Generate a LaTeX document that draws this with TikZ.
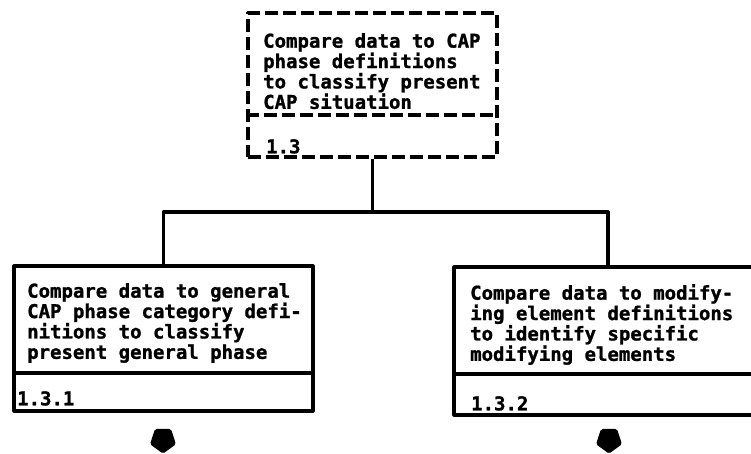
\documentclass[tikz,border=0pt]{standalone}
\usepackage{fontspec}
\newfontfamily\plotfont{DejaVu Sans Mono Bold}[FakeBold=1.2]
\usetikzlibrary{shapes.geometric}
\begin{document}
\begin{tikzpicture}[x=1pt,y=-1pt,
  frame/.style={draw=black,line width=3.2pt,line join=round,inner sep=0pt},
  dashframe/.style={frame,dash pattern=on 13pt off 5pt},
  label/.style={anchor=north west,inner sep=0pt,align=left,
    font=\plotfont\fontsize{19}{20.4}\selectfont},
  wire/.style={draw=black,line width=3.2pt,line join=round},
  tip/.style={regular polygon,regular polygon sides=5,shape border rotate=180,
    fill=black,draw=black,line width=1pt,rounded corners=1.5pt,inner sep=0pt,minimum size=26pt}]
\clip (0,0) rectangle (751,453);
\fill[white] (0,0) rectangle (751,453);

% upper activity box (dashed)
\node[dashframe,minimum width=249pt,minimum height=144pt] (top) at (372.5,85) {};
\draw[dashframe] (top.west |- 0,115) -- (top.east |- 0,115);
\node[label] (toptext) at (263,33) {Compare data to CAP\\phase definitions\\to classify present\\CAP situation};
\node[label] (topnum) at (266,139) {1.3};

% left sub-activity
\node[frame,minimum width=299pt,minimum height=145pt] (left) at (163.5,338.5) {};
\draw[frame] (left.west |- 0,373) -- (left.east |- 0,373);
\node[label] (lefttext) at (27,283) {Compare data to general\\CAP phase category defi-\\nitions to classify\\present general phase};
\node[label] (leftnum) at (17,391) {1.3.1};

% right sub-activity
\node[frame,minimum width=308pt,minimum height=148pt] (right) at (608,341) {};
\draw[frame] (right.west |- 0,374) -- (right.east |- 0,374);
\node[label] (righttext) at (470,284) {Compare data to modify-\\ing element definitions\\to identify specific\\modifying elements};
\node[label] (rightnum) at (471,396) {1.3.2};

% tree connector
\coordinate (j) at (372.5,212);
\draw[wire] (top.south) -- (j);
\draw[wire] (left.north) |- (j) -| (right.north);

% off-page continuation marks
\node[tip] (tl) at (163,440) {};
\node[tip] (tr) at (609,440) {};
\end{tikzpicture}
\end{document}
